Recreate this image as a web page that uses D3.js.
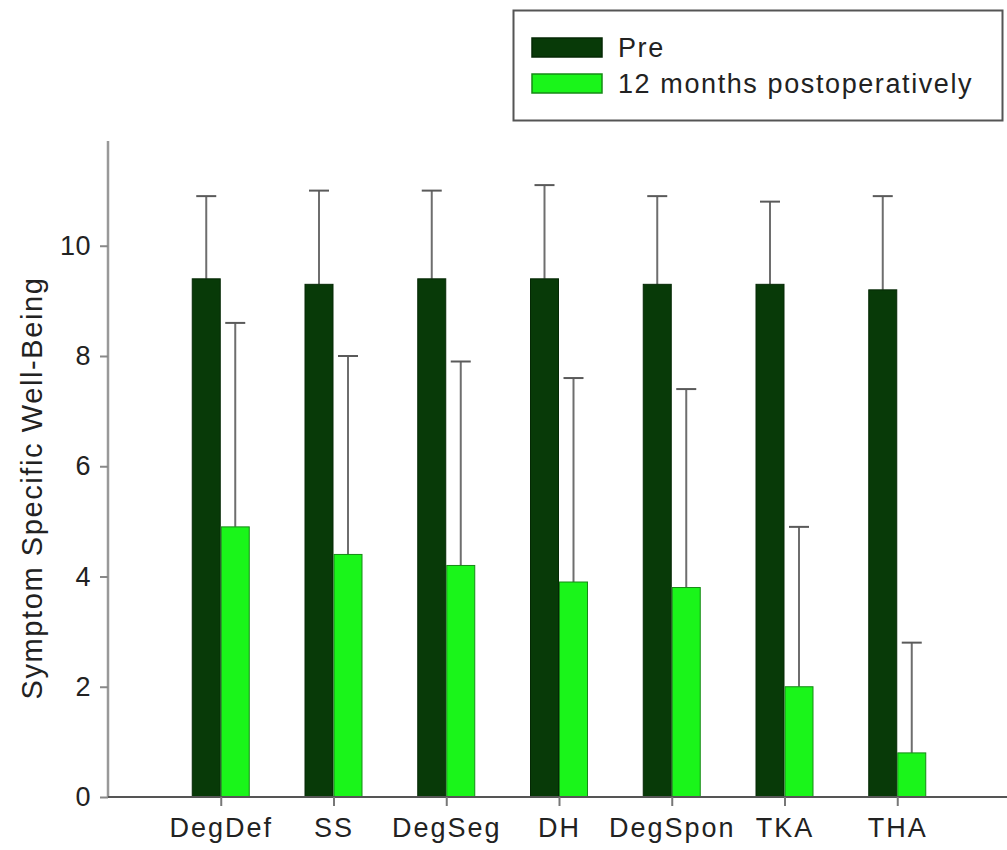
<!DOCTYPE html>
<html>
<head>
<meta charset="utf-8">
<script src="https://cdn.jsdelivr.net/npm/d3@7/dist/d3.min.js"></script>
<style>
  html, body { margin: 0; padding: 0; background: #fff; }
  svg { display: block; }
  text { font-family: "Liberation Sans", Arial, sans-serif; fill: #222; }
</style>
</head>
<body>
<svg id="chart" width="1007" height="850"></svg>
<script>
const categories = ["DegDef", "SS", "DegSeg", "DH", "DegSpon", "TKA", "THA"];
const preMean  = [9.4, 9.3, 9.4, 9.4, 9.3, 9.3, 9.2];
const preSD    = [1.5, 1.7, 1.6, 1.7, 1.6, 1.5, 1.7];
const postMean = [4.9, 4.4, 4.2, 3.9, 3.8, 2.0, 0.8];
const postSD   = [3.7, 3.6, 3.7, 3.7, 3.6, 2.9, 2.0];
const seriesNames = ["Pre", "12 months postoperatively"];
const yTicks = [0, 2, 4, 6, 8, 10];
const yTitle = "Symptom Specific Well-Being";

const svg = d3.select("#chart");
const plotLeft = 108, plotRight = 1007, plotTop = 141, plotBottom = 797;

const x = d3.scalePoint().domain(categories).range([plotLeft, 1010]).padding(1);
const y = d3.scaleLinear().domain([0, 11.9]).range([plotBottom, plotTop]);

const barW = 29;
const series = [
  { name: seriesNames[0], mean: preMean, sd: preSD, fill: "#083a08", stroke: "#052805", off: -barW },
  { name: seriesNames[1], mean: postMean, sd: postSD, fill: "#1af51a", stroke: "#168a16", off: 0 }
];

// error bars (upper only)
series.forEach(s => {
  const g = svg.append("g");
  categories.forEach((c, i) => {
    const cx = x(c) + s.off + barW / 2;
    const yTop = y(s.mean[i] + s.sd[i]);
    g.append("line").attr("x1", cx).attr("x2", cx)
      .attr("y1", y(s.mean[i])).attr("y2", yTop)
      .attr("stroke", "#6e6e6e").attr("stroke-width", 2);
    g.append("line").attr("x1", cx - 10).attr("x2", cx + 10)
      .attr("y1", yTop).attr("y2", yTop)
      .attr("stroke", "#5a5a5a").attr("stroke-width", 2);
  });
});

// bars
series.forEach(s => {
  svg.append("g").selectAll("rect").data(categories).join("rect")
    .attr("x", c => x(c) + s.off + 0.5)
    .attr("width", barW - 1)
    .attr("y", (c, i) => y(s.mean[i]))
    .attr("height", (c, i) => y(0) - y(s.mean[i]))
    .attr("fill", s.fill)
    .attr("stroke", s.stroke)
    .attr("stroke-width", 1);
});

// y axis
const yAxis = svg.append("g").attr("transform", `translate(${plotLeft},0)`)
  .call(d3.axisLeft(y).tickValues(yTicks).tickSize(8).tickPadding(9).tickSizeOuter(0));
yAxis.select(".domain").attr("d", `M0,${y(0)}V${plotTop}`)
  .attr("stroke", "#999").attr("stroke-width", 2.5);
yAxis.selectAll(".tick line").attr("stroke", "#888").attr("stroke-width", 2);
yAxis.selectAll(".tick text").style("font-size", "27px").style("letter-spacing", "0.5px").attr("fill", "#222")
  .attr("font-family", "Liberation Sans, Arial, sans-serif");

// x axis
const xAxis = svg.append("g").attr("transform", `translate(0,${plotBottom})`)
  .call(d3.axisBottom(x).tickSize(9).tickPadding(12).tickSizeOuter(0));
xAxis.select(".domain").attr("d", `M${plotLeft},0H${plotRight}`).attr("stroke", "#555").attr("stroke-width", 2);
xAxis.selectAll(".tick line").attr("stroke", "#777").attr("stroke-width", 2);
xAxis.selectAll(".tick text").style("font-size", "27px").style("letter-spacing", "2px").attr("fill", "#222")
  .attr("font-family", "Liberation Sans, Arial, sans-serif");

// y title
svg.append("text")
  .attr("transform", `translate(42,488) rotate(-90)`)
  .attr("text-anchor", "middle")
  .style("font-size", "29px")
  .style("letter-spacing", "1.6px")
  .text(yTitle);

// legend
const lg = svg.append("g");
lg.append("rect").attr("x", 513.5).attr("y", 10.5).attr("width", 489).attr("height", 110)
  .attr("fill", "#fff").attr("stroke", "#555").attr("stroke-width", 2);
series.forEach((s, i) => {
  const yy = 38 + i * 36;
  lg.append("rect").attr("x", 532).attr("y", yy).attr("width", 70).attr("height", 19)
    .attr("fill", s.fill).attr("stroke", s.stroke).attr("stroke-width", 1.5);
  lg.append("text").attr("x", 618).attr("y", yy + 10).attr("dy", "0.35em")
    .style("font-size", "27px").style("letter-spacing", "1.6px").text(s.name);
});
</script>
</body>
</html>
